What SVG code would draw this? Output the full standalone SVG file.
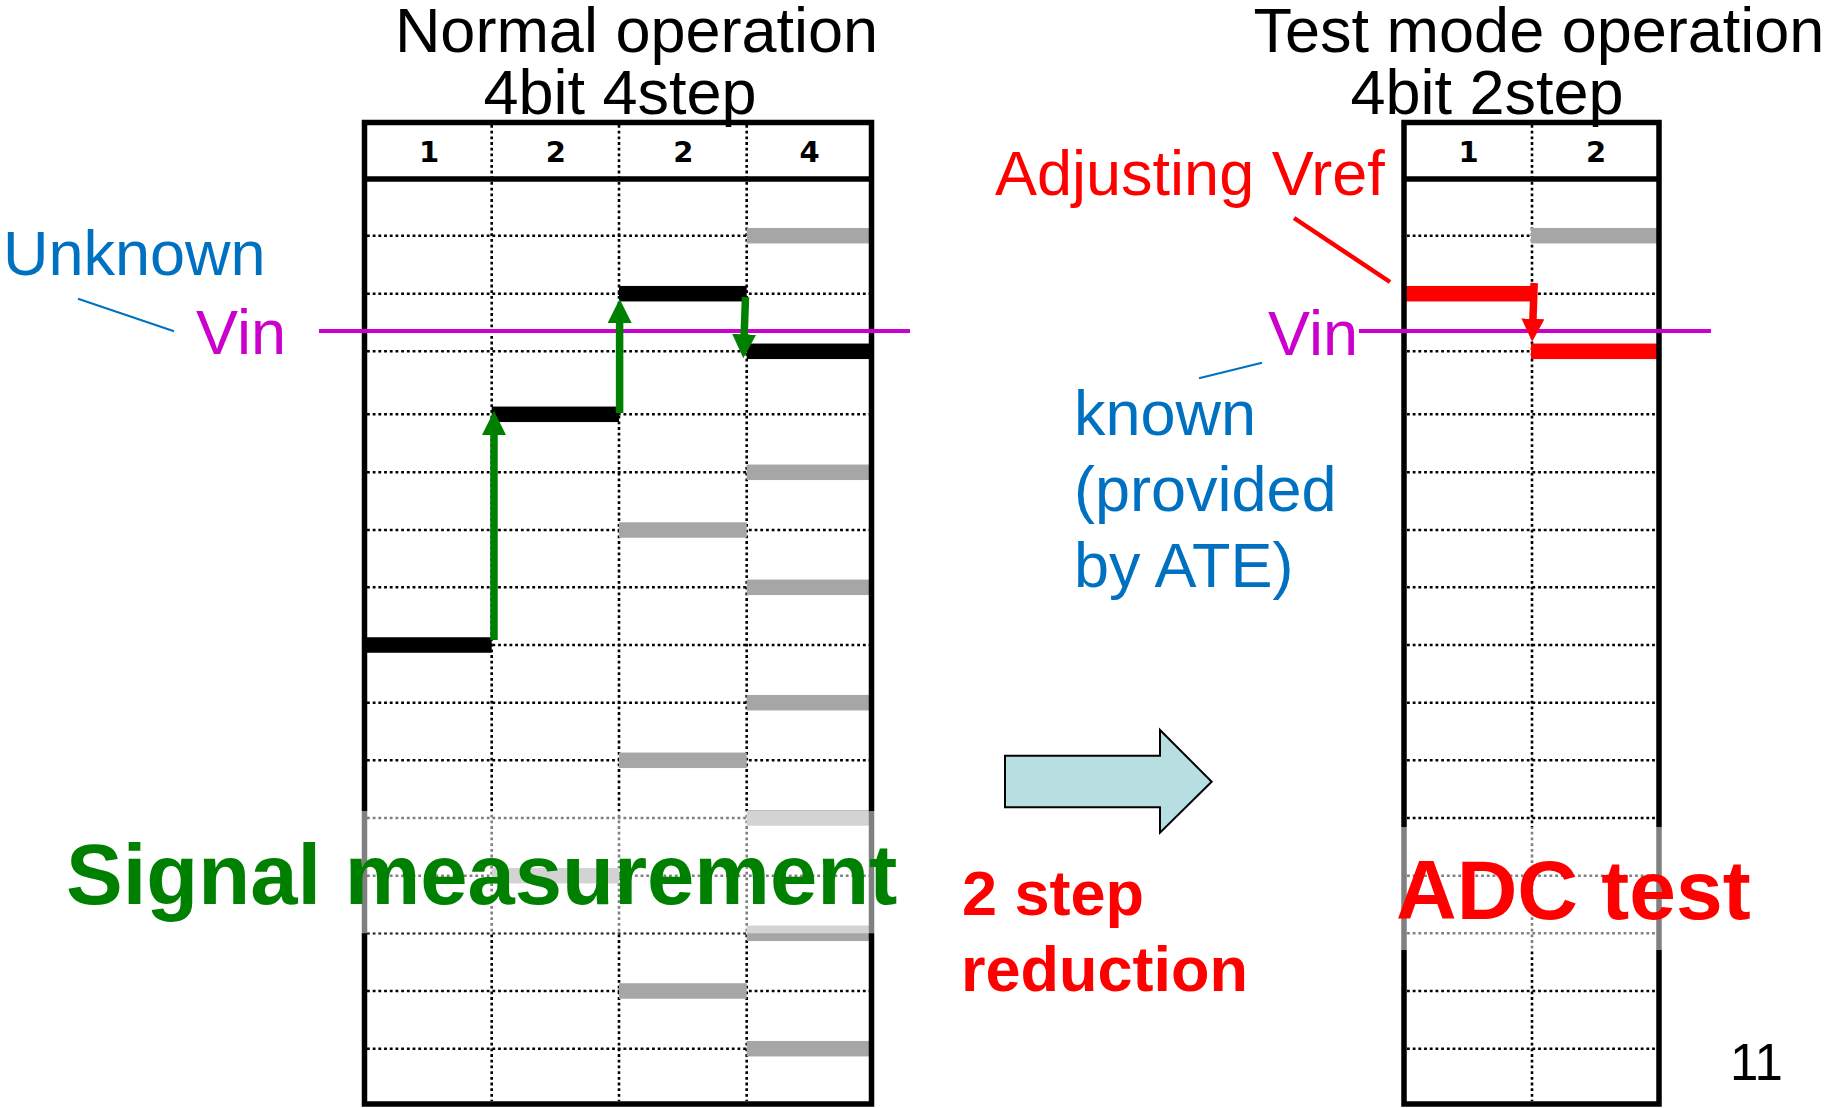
<svg xmlns="http://www.w3.org/2000/svg" width="1831" height="1108" viewBox="0 0 1831 1108">
<style>
.grid{stroke:#000;stroke-width:2.6;stroke-dasharray:2.8 2.9;fill:none}
.border{stroke:#000;stroke-width:5.5;fill:none}
.bk{fill:#000}
.gy{fill:#A6A6A6}
.rd{fill:#FF0000}
.ov{fill:#fff;fill-opacity:0.5}
.ar{font-family:"Liberation Sans",Arial,sans-serif;font-size:63px}
.bd{font-family:"Liberation Sans",Arial,sans-serif;font-weight:bold}
.hd{font-family:"DejaVu Sans",Verdana,sans-serif;font-weight:bold;font-size:29px;text-anchor:middle}
.vin{stroke:#CC00CC;stroke-width:4;fill:none}
.blue{stroke:#0070C0;stroke-width:2;fill:none}
.garr{stroke:#008000;stroke-width:7.5;fill:none}
.rarr{stroke:#FF0000;stroke-width:7.5;fill:none}
</style>
<defs>
<marker id="hg" viewBox="0 0 24 24" markerWidth="24" markerHeight="24" refX="2" refY="12" orient="auto" markerUnits="userSpaceOnUse"><path d="M0,0 L24,12 L0,24 z" fill="#008000"/></marker>
<marker id="hr" viewBox="0 0 24 24" markerWidth="23" markerHeight="23" refX="2" refY="12" orient="auto" markerUnits="userSpaceOnUse"><path d="M0,0 L24,12 L0,24 z" fill="#FF0000"/></marker>
</defs>
<rect width="1831" height="1108" fill="#fff"/>

<g id="title-normal">
<text class="ar" x="636.5" y="52" text-anchor="middle">Normal operation</text>
<text class="ar" x="620" y="113.5" text-anchor="middle">4bit 4step</text>
</g>
<g id="title-test">
<text class="ar" x="1539" y="52" text-anchor="middle">Test mode operation</text>
<text class="ar" x="1487" y="114" text-anchor="middle">4bit 2step</text>
</g>

<g id="table-normal">
<g class="grid">
<path d="M491.7,125 V1101 M619,125 V1101 M746.7,125 V1101"/>
<path d="M367,235.7 H869 M367,293.7 H869 M367,351.3 H869 M367,414.3 H869 M367,472.3 H869 M367,530 H869 M367,587.3 H869 M367,645 H869 M367,702.7 H869 M367,760.3 H869 M367,818 H869 M367,875.7 H869 M367,933.3 H869 M367,991 H869 M367,1048.7 H869"/>
</g>
<rect class="bk" x="364.5" y="637.25" width="127.2" height="15.5"/>
<rect class="bk" x="491.7" y="406.55" width="127.3" height="15.5"/>
<rect class="gy" x="491.7" y="867.95" width="127.3" height="15.5"/>
<rect class="bk" x="619" y="285.95" width="127.7" height="15.5"/>
<rect class="gy" x="619" y="522.25" width="127.7" height="15.5"/>
<rect class="gy" x="619" y="752.55" width="127.7" height="15.5"/>
<rect class="gy" x="619" y="983.25" width="127.7" height="15.5"/>
<rect class="gy" x="746.7" y="227.95" width="124.8" height="15.5"/>
<rect class="bk" x="746.7" y="343.55" width="124.8" height="15.5"/>
<rect class="gy" x="746.7" y="464.55" width="124.8" height="15.5"/>
<rect class="gy" x="746.7" y="579.55" width="124.8" height="15.5"/>
<rect class="gy" x="746.7" y="694.95" width="124.8" height="15.5"/>
<rect class="gy" x="746.7" y="810.25" width="124.8" height="15.5"/>
<rect class="gy" x="746.7" y="925.55" width="124.8" height="15.5"/>
<rect class="gy" x="746.7" y="1040.95" width="124.8" height="15.5"/>
<rect class="border" x="364.5" y="122.5" width="507" height="981.5"/>
<path class="border" d="M364.5,179 H871.5"/>
<text class="hd" x="429" y="162">1</text>
<text class="hd" x="555.8" y="162">2</text>
<text class="hd" x="683.3" y="162">2</text>
<text class="hd" x="809.6" y="162">4</text>
</g>

<g id="table-test">
<g class="grid">
<path d="M1532,125 V1101"/>
<path d="M1407,235.7 H1656 M1407,293.7 H1656 M1407,351.3 H1656 M1407,414.3 H1656 M1407,472.3 H1656 M1407,530 H1656 M1407,587.3 H1656 M1407,645 H1656 M1407,702.7 H1656 M1407,760.3 H1656 M1407,818 H1656 M1407,875.7 H1656 M1407,933.3 H1656 M1407,991 H1656 M1407,1048.7 H1656"/>
</g>
<rect class="gy" x="1531" y="227.95" width="128" height="15.5"/>
<rect class="rd" x="1404" y="285.95" width="132.7" height="15.5"/>
<rect class="rd" x="1531" y="343.55" width="128" height="15.5"/>
<rect class="border" x="1404" y="122.5" width="255" height="981.5"/>
<path class="border" d="M1404,179 H1659"/>
<text class="hd" x="1468.5" y="162">1</text>
<text class="hd" x="1596" y="162">2</text>
</g>

<g id="vin-lines">
<path class="vin" d="M319,331 H910"/>
<path class="vin" d="M1359,331 H1711"/>
</g>

<g id="connectors">
<path class="garr" d="M494,640 V433" marker-end="url(#hg)"/>
<path class="garr" d="M619.6,413 V321" marker-end="url(#hg)"/>
<path class="garr" d="M745.5,297 L744.1,336.3" marker-end="url(#hg)"/>
<path class="rarr" d="M1534.2,283 L1532.9,320.7" marker-end="url(#hr)"/>
<path class="blue" d="M78,298.7 L174,331.3"/>
<path class="blue" d="M1262,362.7 L1199,378.3"/>
<path d="M1294,218 L1390,282" stroke="#FF0000" stroke-width="4.5" fill="none"/>
</g>

<g id="shift-arrow">
<polygon points="1005,755.7 1160,755.7 1160,730 1211.7,781.7 1160,832.7 1160,807.3 1005,807.3" fill="#B7DEE0" stroke="#000" stroke-width="2"/>
</g>

<g id="overlays">
<rect class="ov" x="60" y="811" width="850" height="122.3"/>
<rect class="ov" x="1385" y="827" width="380" height="123"/>
</g>

<g id="labels">
<text class="ar" x="3" y="275" fill="#0070C0">Unknown</text>
<text class="ar" x="196" y="354" fill="#CC00CC">Vin</text>
<text class="ar" x="1268" y="355" fill="#CC00CC">Vin</text>
<text class="ar" x="995" y="195" fill="#FF0000">Adjusting Vref</text>
<text class="ar" fill="#0070C0"><tspan x="1074" y="435">known</tspan><tspan x="1074" y="511">(provided</tspan><tspan x="1074" y="587">by ATE)</tspan></text>
<text class="bd" x="66" y="904" font-size="85" fill="#008000">Signal measurement</text>
<text class="bd" font-size="63" fill="#FF0000"><tspan x="962" y="914.7">2 step</tspan><tspan x="961" y="991">reduction</tspan></text>
<text class="bd" x="1396" y="919" font-size="84" fill="#FF0000">ADC test</text>
<text x="1730" y="1079.5" font-family="Liberation Sans,Arial,sans-serif" font-size="51" fill="#000">11</text>
</g>
</svg>
